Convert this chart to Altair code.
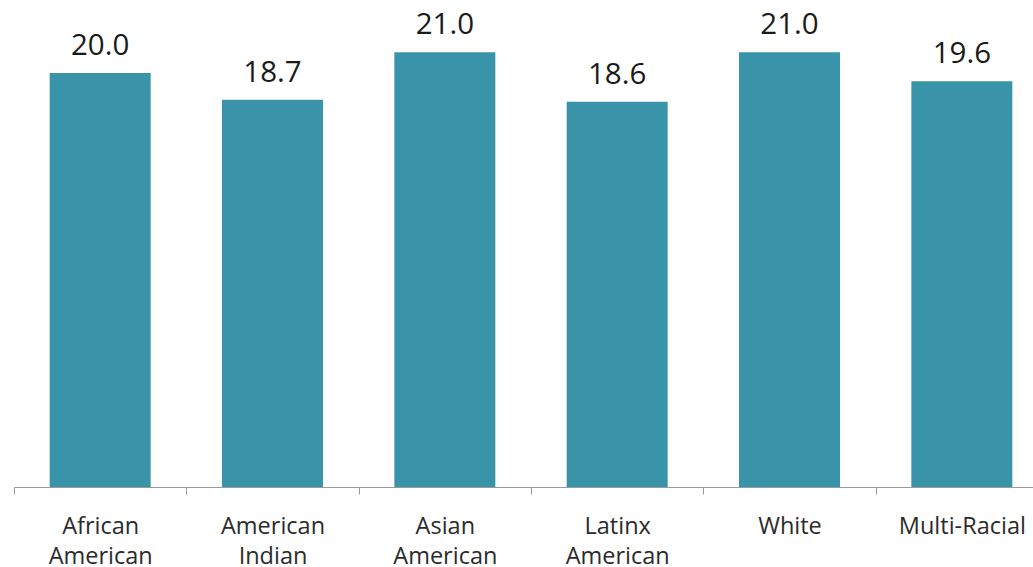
import altair as alt
import pandas as pd

# Average score by group
groups = ["African American", "American Indian", "Asian American",
          "Latinx American", "White", "Multi-Racial"]
scores = [20.0, 18.7, 21.0, 18.6, 21.0, 19.6]

df = pd.DataFrame({"group": groups, "score": scores})

BAR_COLOR = "#3a94a9"
FONT = "Open Sans"

x_enc = alt.X(
    "group:N",
    sort=None,
    title=None,
    scale=alt.Scale(paddingInner=0, paddingOuter=0, range=[0, 1034]),
    axis=alt.Axis(
        labelAngle=0,
        labelExpr="split(datum.label, ' ')",
        labelFont=FONT,
        labelFontSize=23.5,
        labelColor="#2b2b2b",
        labelLineHeight=30,
        labelPadding=20,
        labelBaseline="top",
        tickBand="extent",
        tickSize=7,
        tickColor="#9a9a9a",
        domainColor="#9a9a9a",
        tickWidth=1,
        domainWidth=1,
        grid=False,
    ),
)
y_enc = alt.Y(
    "score:Q",
    scale=alt.Scale(domain=[0, 23.52], nice=False, zero=True),
    axis=None,
)

bars = alt.Chart(df).mark_bar(
    color=BAR_COLOR, width=alt.RelativeBandSize(0.586)
).encode(x=x_enc, y=y_enc)

labels = alt.Chart(df).mark_text(
    font=FONT, fontSize=29.5, color="#1a1a1a", baseline="alphabetic", dy=-18
).encode(x=x_enc, y=y_enc, text=alt.Text("score:Q", format=".1f"))

chart = (
    alt.layer(bars, labels)
    .properties(
        width=1019,
        height=487,
        padding={"left": 14, "top": 0, "right": 0, "bottom": 80},
        autosize=alt.AutoSizeParams(type="none"),
        background="white",
    )
    .configure_view(stroke=None)
)

chart.save("out.html", embed_options={"renderer": "svg", "actions": False})
